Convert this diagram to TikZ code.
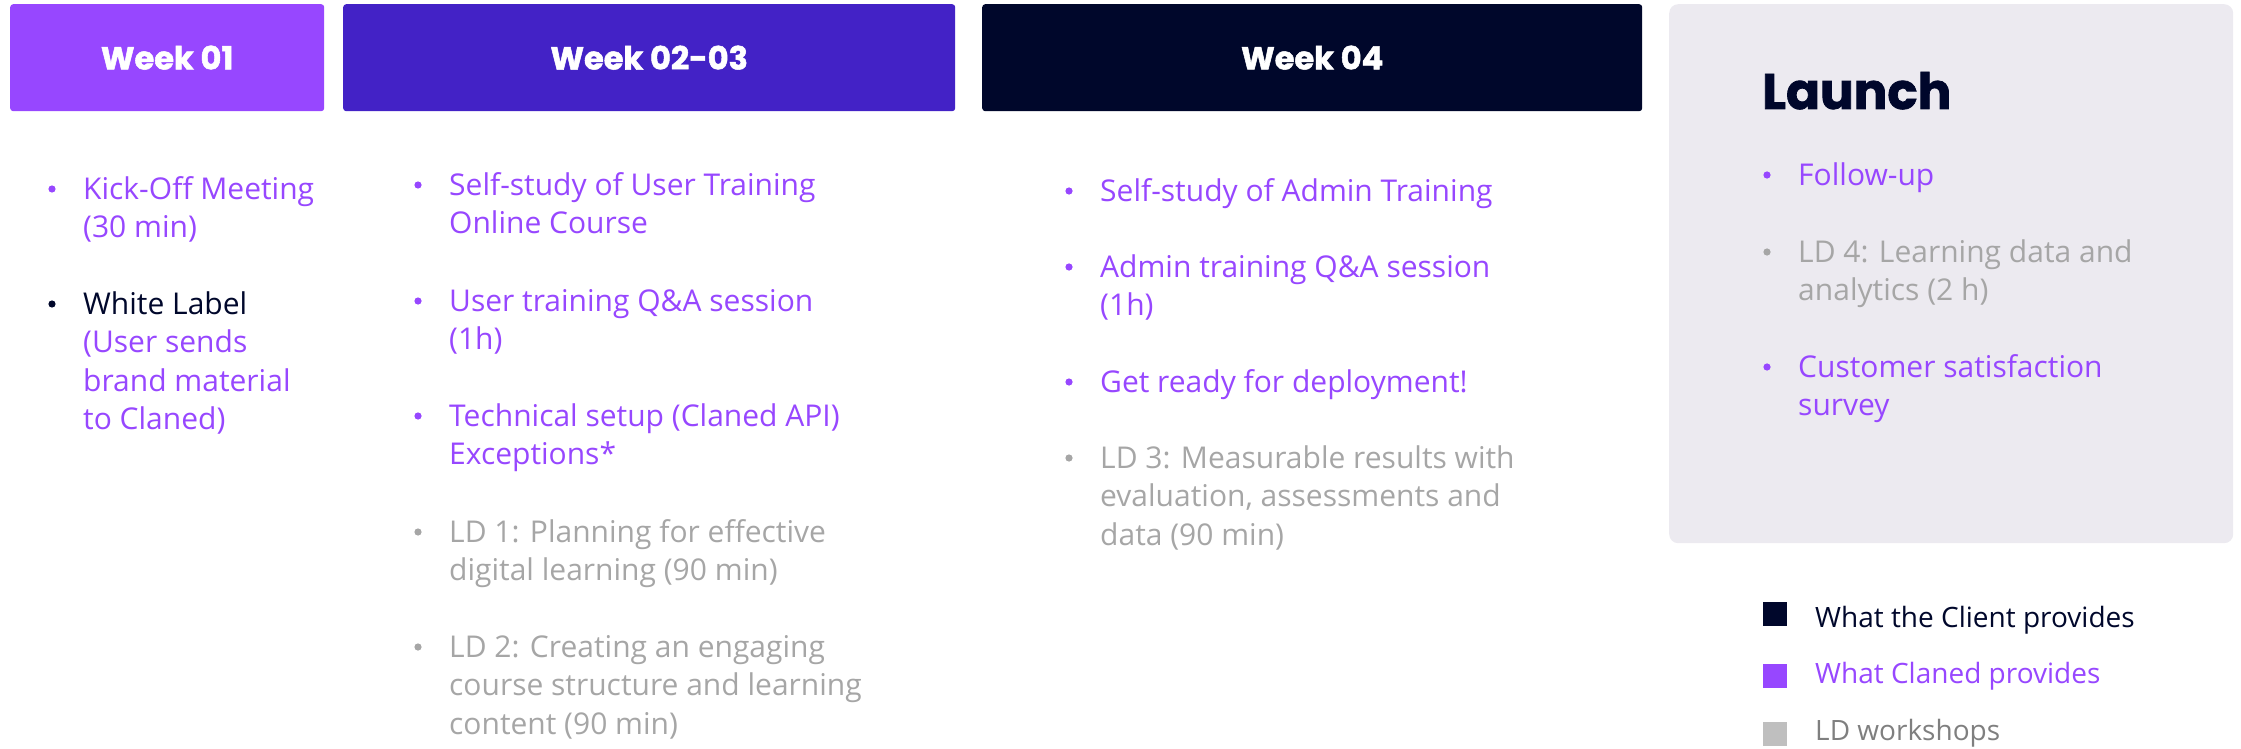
\documentclass[tikz,border=0pt]{standalone}
\usepackage{fontspec}
\setmainfont{Open Sans}
\newfontfamily\headfont{Poppins}[BoldFeatures={FakeBold=1.6}]
\definecolor{cpurple}{HTML}{9747FF}
\definecolor{cindigo}{HTML}{4322C6}
\definecolor{cnavy}{HTML}{00072B}
\definecolor{cgrey}{HTML}{A6A6A6}
\definecolor{clgrey}{HTML}{BFBFBF}
\definecolor{cdgrey}{HTML}{7F7F7F}
\definecolor{claunch}{HTML}{ECEAF0}
\begin{document}
\begin{tikzpicture}[x=1pt,y=-1pt,
  hbox/.style={rounded corners=3pt, inner sep=0pt, anchor=north west, minimum height=107pt,
    text=white, font=\headfont\bfseries\fontsize{32}{40}\selectfont},
  item/.style={anchor=north west, inner sep=0pt, align=left, font=\fontsize{30}{38.5}\selectfont},
  purp/.style={item, text=cpurple},
  grey/.style={item, text=cgrey},
  legtext/.style={anchor=base west, inner sep=0pt, font=\fontsize{28}{34}\selectfont},
  legsq/.style={inner sep=0pt, minimum size=24pt},
]
\useasboundingbox (0,0) rectangle (2241,749);
\newcommand{\bul}[2]{\fill[#2] ([xshift=-31pt,yshift=-17pt]#1.north west) circle (3.6pt);}

% header boxes
\node[hbox, fill=cpurple, minimum width=314pt] (w1) at (10,4) {Week 01};
\node[hbox, fill=cindigo, minimum width=612pt] (w2) at (343,4) {Week 02-03};
\node[hbox, fill=cnavy, minimum width=660pt] (w4) at (982,4) {Week 04};
\node[fill=claunch, rounded corners=9pt, inner sep=0pt, anchor=north west,
      minimum width=564pt, minimum height=539pt] (lbox) at (1669,4) {};
\node[anchor=base west, inner sep=0pt, text=cnavy,
      font=\headfont\bfseries\fontsize{50}{60}\selectfont] (launch) at (1762,109) {Launch};

% column 1
\node[purp] (a1) at (83,172) {\strut Kick-Off Meeting\\(30 min)};
\node[purp] (a2) at (83,287) {\strut\textcolor{cnavy}{White Label}\\(User sends\\brand material\\to Claned)};
\bul{a1}{cpurple}
\bul{a2}{cnavy}

% column 2
\node[purp] (b1) at (449,168) {\strut Self-study of User Training\\Online Course};
\node[purp] (b2) at (449,284) {\strut User training Q\&A session\\(1h)};
\node[purp] (b3) at (449,399) {\strut Technical setup (Claned API)\\Exceptions*};
\node[grey] (b4) at (449,515) {\strut LD 1: Planning for effective\\digital learning (90 min)};
\node[grey] (b5) at (449,630) {\strut LD 2: Creating an engaging\\course structure and learning\\content (90 min)};
\bul{b1}{cpurple}
\bul{b2}{cpurple}
\bul{b3}{cpurple}
\bul{b4}{cgrey}
\bul{b5}{cgrey}

% column 3
\node[purp] (c1) at (1100,174) {\strut Self-study of Admin Training};
\node[purp] (c2) at (1100,250) {\strut Admin training Q\&A session\\(1h)};
\node[purp] (c3) at (1100,365) {\strut Get ready for deployment!};
\node[grey] (c4) at (1100,441) {\strut LD 3: Measurable results with\\evaluation, assessments and\\data (90 min)};
\bul{c1}{cpurple}
\bul{c2}{cpurple}
\bul{c3}{cpurple}
\bul{c4}{cgrey}

% column 4 (launch)
\node[purp] (d1) at (1798,158) {\strut Follow-up};
\node[grey] (d2) at (1798,235) {\strut LD 4: Learning data and\\analytics (2 h)};
\node[purp] (d3) at (1798,350) {\strut Customer satisfaction\\survey};
\bul{d1}{cpurple}
\bul{d2}{cgrey}
\bul{d3}{cpurple}

% legend
\node[legsq, fill=cnavy] (s1) at (1775,614) {};
\node[legsq, fill=cpurple] (s2) at (1775,675.5) {};
\node[legsq, fill=clgrey] (s3) at (1775,734) {};
\node[legtext, text=cnavy] (l1) at (1815,627) {What the Client provides};
\node[legtext, text=cpurple] (l2) at (1815,683) {What Claned provides};
\node[legtext, text=cdgrey] (l3) at (1815,740) {LD workshops};
\end{tikzpicture}
\end{document}
